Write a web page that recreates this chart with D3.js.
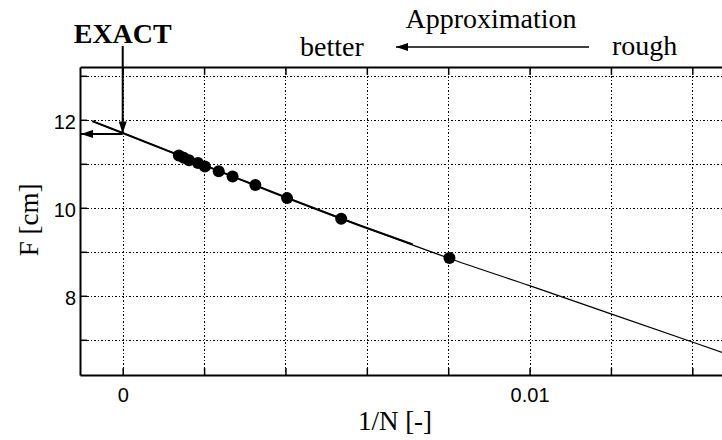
<!DOCTYPE html>
<html>
<head>
<meta charset="utf-8">
<script src="https://cdn.jsdelivr.net/npm/d3@7"></script>
<style>
  html, body { margin: 0; padding: 0; background: #fff; }
  svg { display: block; }
  .tick-label { font-family: 'Liberation Sans', Arial, sans-serif; font-size: 20px; fill: #000; }
  .serif { font-family: 'Liberation Serif', 'Times New Roman', serif; fill: #000; }
</style>
</head>
<body>
<svg id="chart" width="722" height="440"></svg>
<script>
// measured points: 1/N vs focal length F
const invN = [0.00138, 0.00150, 0.00163, 0.00185, 0.00202, 0.00236, 0.00270, 0.00326, 0.00404, 0.00537, 0.00803]
const focal = [11.19, 11.14, 11.08, 11.02, 10.94, 10.83, 10.71, 10.52, 10.22, 9.75, 8.86]

// extrapolation curve (thin, whole range)
const fitX = [-0.00075, 0, 0.002, 0.004, 0.006, 0.008, 0.010, 0.012, 0.014, 0.015]
const fitF = [11.97, 11.70, 10.97, 10.24, 9.54, 8.86, 8.23, 7.59, 6.95, 6.63]

// thick segment over the fitted range
const thickX = [-0.00075, 0, 0.002, 0.004, 0.006, 0.00713]
const thickF = [11.97, 11.70, 10.97, 10.24, 9.54, 9.17]

const exactF = 11.69

const xTickVals = [0, 0.002, 0.004, 0.006, 0.008, 0.010, 0.012, 0.014]
const xTickLabels = {0: '0', 0.01: '0.01'}
const yTickVals = [7, 8, 9, 10, 11, 12, 13]
const yTickLabels = {8: '8', 10: '10', 12: '12'}

const svg = d3.select('#chart')
const mLeft = 80, mTop = 67, mBottom = 375, mRight = 733

const x = d3.scaleLinear().domain([-0.00105, 0.015]).range([mLeft, mRight])
const y = d3.scaleLinear().domain([6.2, 13.2]).range([mBottom, mTop])
const h = mBottom - mTop

const defs = svg.append('defs')
defs.append('clipPath').attr('id', 'plot')
  .append('rect').attr('x', mLeft).attr('y', mTop).attr('width', mRight - mLeft).attr('height', h)
defs.append('marker')
  .attr('id', 'head')
  .attr('viewBox', '0 -4 12 8')
  .attr('refX', 12).attr('refY', 0)
  .attr('markerWidth', 12).attr('markerHeight', 8)
  .attr('markerUnits', 'userSpaceOnUse')
  .attr('orient', 'auto')
  .append('path').attr('d', 'M0,-4L12,0L0,4Z').attr('fill', '#000')

// grid
const grid = svg.append('g')
grid.append('g')
  .attr('transform', `translate(0,${mBottom})`)
  .call(d3.axisBottom(x).tickValues(xTickVals).tickSize(-h).tickFormat(''))
grid.append('g')
  .attr('transform', `translate(${mLeft},0)`)
  .call(d3.axisLeft(y).tickValues(yTickVals).tickSize(-(mRight - mLeft)).tickFormat(''))
grid.selectAll('.domain').remove()
grid.selectAll('line')
  .attr('stroke', '#000')
  .attr('stroke-width', 1)
  .attr('stroke-dasharray', '1.5,2')
  .attr('shape-rendering', 'crispEdges')

// lines
const line = (xs, ys) => d3.line()
  .x((d, i) => x(xs[i]))
  .y((d, i) => y(ys[i]))
  .curve(d3.curveMonotoneX)(xs)

const plot = svg.append('g').attr('clip-path', 'url(#plot)')
plot.append('path')
  .attr('d', line(fitX, fitF))
  .attr('fill', 'none').attr('stroke', '#000').attr('stroke-width', 1.2)
plot.append('path')
  .attr('d', line(thickX, thickF))
  .attr('fill', 'none').attr('stroke', '#000').attr('stroke-width', 2)

plot.selectAll('circle')
  .data(invN)
  .enter()
  .append('circle')
  .attr('cx', d => x(d))
  .attr('cy', (d, i) => y(focal[i]))
  .attr('r', 6)
  .attr('fill', '#000')

// axes
const xAxis = svg.append('g')
  .attr('transform', `translate(0,${mBottom})`)
  .call(d3.axisBottom(x).tickValues(xTickVals).tickSizeInner(-7).tickSizeOuter(0)
    .tickPadding(13).tickFormat(d => xTickLabels[d] || ''))
svg.append('g')
  .attr('transform', `translate(0,${mTop})`)
  .call(d3.axisTop(x).tickValues(xTickVals).tickSizeInner(-8).tickSizeOuter(0).tickFormat(''))
const yAxis = svg.append('g')
  .attr('transform', `translate(${mLeft},0)`)
  .call(d3.axisLeft(y).tickValues(yTickVals).tickSizeInner(-7).tickSizeOuter(0)
    .tickPadding(4).tickFormat(d => yTickLabels[d] || ''))

svg.selectAll('.domain').attr('stroke', '#000').attr('stroke-width', 2)
svg.selectAll('.tick line').filter(function () { return !this.getAttribute('stroke-dasharray') })
  .attr('stroke', '#000').attr('stroke-width', 1.5)
xAxis.selectAll('text').attr('class', 'tick-label')
xAxis.attr('font-family', null).attr('font-size', null)
yAxis.selectAll('text').attr('class', 'tick-label').attr('dy', '0.45em')
yAxis.attr('font-family', null).attr('font-size', null)

// axis titles
svg.append('text')
  .attr('class', 'serif')
  .attr('x', 395).attr('y', 430)
  .attr('text-anchor', 'middle')
  .attr('font-size', 27)
  .text('1/N [-]')
svg.append('text')
  .attr('class', 'serif')
  .attr('transform', 'translate(38,220) rotate(-90)')
  .attr('text-anchor', 'middle')
  .attr('font-size', 27)
  .text('F [cm]')

// EXACT annotation
svg.append('text')
  .attr('class', 'serif')
  .attr('x', x(0)).attr('y', 43)
  .attr('text-anchor', 'middle')
  .attr('font-size', 28).attr('font-weight', 'bold')
  .text('EXACT')
svg.append('line')
  .attr('x1', x(0)).attr('y1', 46)
  .attr('x2', x(0)).attr('y2', y(exactF))
  .attr('stroke', '#000').attr('stroke-width', 2)
  .attr('marker-end', 'url(#head)')
svg.append('line')
  .attr('x1', x(0)).attr('y1', y(exactF) + 0.5)
  .attr('x2', mLeft + 1).attr('y2', y(exactF) + 0.5)
  .attr('stroke', '#000').attr('stroke-width', 2)
  .attr('marker-end', 'url(#head)')

// approximation direction
svg.append('text')
  .attr('class', 'serif')
  .attr('x', 491).attr('y', 28)
  .attr('text-anchor', 'middle')
  .attr('font-size', 28)
  .text('Approximation')
svg.append('text')
  .attr('class', 'serif')
  .attr('x', 300).attr('y', 56)
  .attr('font-size', 28)
  .text('better')
svg.append('text')
  .attr('class', 'serif')
  .attr('x', 612).attr('y', 55)
  .attr('font-size', 28)
  .text('rough')
svg.append('line')
  .attr('x1', 589).attr('y1', 47)
  .attr('x2', 396).attr('y2', 47)
  .attr('stroke', '#000').attr('stroke-width', 1.5)
  .attr('marker-end', 'url(#head)')
</script>
</body>
</html>
